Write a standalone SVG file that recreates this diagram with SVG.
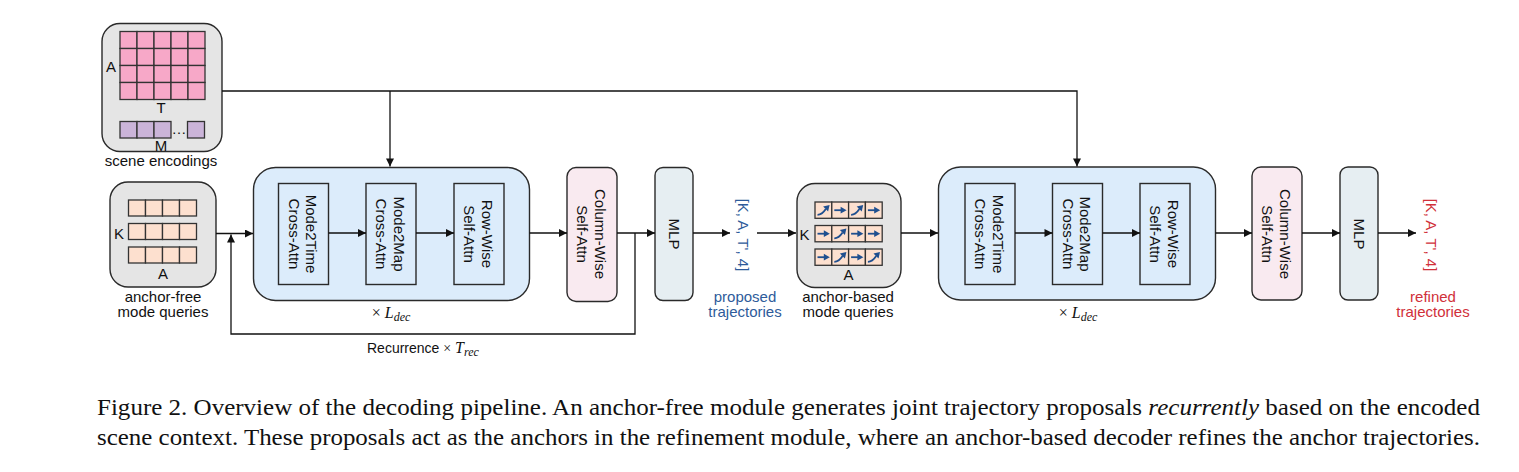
<svg xmlns="http://www.w3.org/2000/svg" xmlns:xlink="http://www.w3.org/1999/xlink" width="1519" height="472" viewBox="0 0 1519 472">
<style>
.sans{font-family:"Liberation Sans",Arial,sans-serif;fill:#111}
.serif{font-family:"Liberation Serif","Times New Roman",serif;fill:#111}
.lbl{font-size:15px}
.lt{font-size:15px}
.grey{fill:#e5e5e5;stroke:#2a2a2a;stroke-width:1.4}
.blk{fill:#dcecfb;stroke:#2a2a2a;stroke-width:1.4}
.inner{fill:#dcecfb;stroke:#2a2a2a;stroke-width:1.4}
.col{fill:#f9eaf0;stroke:#2a2a2a;stroke-width:1.4}
.mlp{fill:#e6eef2;stroke:#2a2a2a;stroke-width:1.4}
.pk{fill:#f7a8c8;stroke:#333;stroke-width:1.3}
.pu{fill:#cbb4d9;stroke:#333;stroke-width:1.3}
.pe{fill:#fde0cf;stroke:#333;stroke-width:1.3}
.cn{fill:none;stroke:#111;stroke-width:1.3}
.blue{fill:#2e5b9a}
.red{fill:#d0303a}
</style>
<defs>
<marker id="ah" viewBox="0 0 10 10" refX="10" refY="5" markerWidth="9" markerHeight="8" markerUnits="userSpaceOnUse" orient="auto">
<path d="M0,0 L10,5 L0,10 z" fill="#111"/>
</marker>
<g id="ar">
<path d="M2.5,8.2 H10" stroke="#1f4f8f" stroke-width="1.8" fill="none"/>
<polygon points="8.8,4.8 14.8,8.2 8.8,11.6" fill="#1f4f8f"/>
</g>
<g id="ad">
<path d="M2.5,12.8 C6,12.8 8.5,10.5 10.8,7" stroke="#1f4f8f" stroke-width="1.8" fill="none"/>
<polygon points="14.6,3 13.1,9.6 8.1,4.6" fill="#1f4f8f"/>
</g>
</defs>

<g id="scene-encodings">
<rect class="grey" x="102" y="23.5" width="120" height="128" rx="18"/>
<rect class="pk" x="120" y="31.5" width="17" height="17"/><rect class="pk" x="137" y="31.5" width="17" height="17"/><rect class="pk" x="154" y="31.5" width="17" height="17"/><rect class="pk" x="171" y="31.5" width="17" height="17"/><rect class="pk" x="188" y="31.5" width="17" height="17"/>
<rect class="pk" x="120" y="48.5" width="17" height="17"/><rect class="pk" x="137" y="48.5" width="17" height="17"/><rect class="pk" x="154" y="48.5" width="17" height="17"/><rect class="pk" x="171" y="48.5" width="17" height="17"/><rect class="pk" x="188" y="48.5" width="17" height="17"/>
<rect class="pk" x="120" y="65.5" width="17" height="17"/><rect class="pk" x="137" y="65.5" width="17" height="17"/><rect class="pk" x="154" y="65.5" width="17" height="17"/><rect class="pk" x="171" y="65.5" width="17" height="17"/><rect class="pk" x="188" y="65.5" width="17" height="17"/>
<rect class="pk" x="120" y="82.5" width="17" height="17"/><rect class="pk" x="137" y="82.5" width="17" height="17"/><rect class="pk" x="154" y="82.5" width="17" height="17"/><rect class="pk" x="171" y="82.5" width="17" height="17"/><rect class="pk" x="188" y="82.5" width="17" height="17"/>
<text class="sans lt" x="111" y="72" text-anchor="middle">A</text>
<text class="sans lt" x="161" y="113" text-anchor="middle">T</text>
<rect class="pu" x="120" y="121.5" width="17" height="16.5"/><rect class="pu" x="137" y="121.5" width="17" height="16.5"/><rect class="pu" x="154" y="121.5" width="17" height="16.5"/>
<text class="sans lt" x="179" y="133.5" text-anchor="middle">…</text>
<rect class="pu" x="187.5" y="121.5" width="17" height="16.5"/>
<text class="sans lt" x="161" y="150.5" text-anchor="middle">M</text>
<text class="sans lbl" x="161" y="166" text-anchor="middle">scene encodings</text>
</g>

<g id="anchor-free-queries">
<rect class="grey" x="110" y="182" width="106" height="105" rx="18"/>
<rect class="pe" x="128.5" y="200" width="17" height="16"/><rect class="pe" x="145.5" y="200" width="17" height="16"/><rect class="pe" x="162.5" y="200" width="17" height="16"/><rect class="pe" x="179.5" y="200" width="17" height="16"/>
<rect class="pe" x="128.5" y="223.5" width="17" height="16"/><rect class="pe" x="145.5" y="223.5" width="17" height="16"/><rect class="pe" x="162.5" y="223.5" width="17" height="16"/><rect class="pe" x="179.5" y="223.5" width="17" height="16"/>
<rect class="pe" x="128.5" y="247" width="17" height="16"/><rect class="pe" x="145.5" y="247" width="17" height="16"/><rect class="pe" x="162.5" y="247" width="17" height="16"/><rect class="pe" x="179.5" y="247" width="17" height="16"/>
<text class="sans lt" x="119" y="239" text-anchor="middle">K</text>
<text class="sans lt" x="163" y="279" text-anchor="middle">A</text>
<text class="sans lbl" x="163" y="302" text-anchor="middle">anchor-free</text>
<text class="sans lbl" x="163" y="317" text-anchor="middle">mode queries</text>
</g>

<g id="af-decoder">
<rect class="blk" x="253.5" y="167.5" width="276" height="133" rx="22"/>
<text class="serif" x="391" y="318" text-anchor="middle" font-size="16">× <tspan font-style="italic">L</tspan><tspan font-style="italic" font-size="12" dy="2.5">dec</tspan></text>
</g>
<g id="af-mode2time">
<rect class="inner" x="278.5" y="183.5" width="50" height="101"/>
<g transform="translate(303.5,234) rotate(90)"><text class="sans lbl" text-anchor="middle" y="-2.5">Mode2Time</text><text class="sans lbl" text-anchor="middle" y="15">Cross-Attn</text></g>
</g>
<g id="af-mode2map">
<rect class="inner" x="366" y="183.5" width="50" height="101"/>
<g transform="translate(391,234) rotate(90)"><text class="sans lbl" text-anchor="middle" y="-2.5">Mode2Map</text><text class="sans lbl" text-anchor="middle" y="15">Cross-Attn</text></g>
</g>
<g id="af-rowwise">
<rect class="inner" x="454" y="183.5" width="50" height="101"/>
<g transform="translate(479,234) rotate(90)"><text class="sans lbl" text-anchor="middle" y="-2.5">Row-Wise</text><text class="sans lbl" text-anchor="middle" y="15">Self-Attn</text></g>
</g>
<g id="af-colwise">
<rect class="col" x="567" y="167.5" width="50" height="134" rx="9"/>
<g transform="translate(592,234) rotate(90)"><text class="sans lbl" text-anchor="middle" y="-2.5">Column-Wise</text><text class="sans lbl" text-anchor="middle" y="15">Self-Attn</text></g>
</g>
<g id="af-mlp">
<rect class="mlp" x="655" y="167.5" width="38" height="133" rx="8"/>
<g transform="translate(674,234) rotate(90)"><text class="sans lbl" text-anchor="middle" y="5.4">MLP</text></g>
</g>
<g id="proposed">
<g transform="translate(743.5,235) rotate(90)"><text class="sans lbl blue" text-anchor="middle" y="5.4">[K, A, T', 4]</text></g>
<text class="sans lbl blue" x="745" y="302" text-anchor="middle">proposed</text>
<text class="sans lbl blue" x="745" y="317" text-anchor="middle">trajectories</text>
</g>

<g id="anchor-based-queries">
<rect class="grey" x="797" y="183.5" width="104" height="104" rx="18"/>
<rect class="pe" x="815" y="202" width="16.8" height="16.3"/><rect class="pe" x="831.8" y="202" width="16.8" height="16.3"/><rect class="pe" x="848.6" y="202" width="16.8" height="16.3"/><rect class="pe" x="865.4" y="202" width="16.8" height="16.3"/>
<rect class="pe" x="815" y="225.5" width="16.8" height="16.3"/><rect class="pe" x="831.8" y="225.5" width="16.8" height="16.3"/><rect class="pe" x="848.6" y="225.5" width="16.8" height="16.3"/><rect class="pe" x="865.4" y="225.5" width="16.8" height="16.3"/>
<rect class="pe" x="815" y="249" width="16.8" height="16.3"/><rect class="pe" x="831.8" y="249" width="16.8" height="16.3"/><rect class="pe" x="848.6" y="249" width="16.8" height="16.3"/><rect class="pe" x="865.4" y="249" width="16.8" height="16.3"/>
<use href="#ad" x="815" y="202"/><use href="#ar" x="831.8" y="202"/><use href="#ad" x="848.6" y="202"/><use href="#ar" x="865.4" y="202"/>
<use href="#ar" x="815" y="225.5"/><use href="#ad" x="831.8" y="225.5"/><use href="#ar" x="848.6" y="225.5"/><use href="#ar" x="865.4" y="225.5"/>
<use href="#ar" x="815" y="249"/><use href="#ad" x="831.8" y="249"/><use href="#ar" x="848.6" y="249"/><use href="#ad" x="865.4" y="249"/>
<text class="sans lt" x="804.5" y="240" text-anchor="middle">K</text>
<text class="sans lt" x="848.5" y="280" text-anchor="middle">A</text>
<text class="sans lbl" x="848" y="302" text-anchor="middle">anchor-based</text>
<text class="sans lbl" x="848" y="317" text-anchor="middle">mode queries</text>
</g>

<g id="ab-decoder">
<rect class="blk" x="938.5" y="167" width="277" height="133" rx="22"/>
<text class="serif" x="1078" y="318" text-anchor="middle" font-size="16">× <tspan font-style="italic">L</tspan><tspan font-style="italic" font-size="12" dy="2.5">dec</tspan></text>
</g>
<g id="ab-mode2time">
<rect class="inner" x="965" y="183.5" width="50" height="101"/>
<g transform="translate(990,234) rotate(90)"><text class="sans lbl" text-anchor="middle" y="-2.5">Mode2Time</text><text class="sans lbl" text-anchor="middle" y="15">Cross-Attn</text></g>
</g>
<g id="ab-mode2map">
<rect class="inner" x="1052.5" y="183.5" width="50" height="101"/>
<g transform="translate(1077.5,234) rotate(90)"><text class="sans lbl" text-anchor="middle" y="-2.5">Mode2Map</text><text class="sans lbl" text-anchor="middle" y="15">Cross-Attn</text></g>
</g>
<g id="ab-rowwise">
<rect class="inner" x="1140" y="183.5" width="50" height="101"/>
<g transform="translate(1165,234) rotate(90)"><text class="sans lbl" text-anchor="middle" y="-2.5">Row-Wise</text><text class="sans lbl" text-anchor="middle" y="15">Self-Attn</text></g>
</g>
<g id="ab-colwise">
<rect class="col" x="1252" y="167" width="50" height="133" rx="9"/>
<g transform="translate(1277,234) rotate(90)"><text class="sans lbl" text-anchor="middle" y="-2.5">Column-Wise</text><text class="sans lbl" text-anchor="middle" y="15">Self-Attn</text></g>
</g>
<g id="ab-mlp">
<rect class="mlp" x="1340" y="167" width="38" height="133" rx="8"/>
<g transform="translate(1359,234) rotate(90)"><text class="sans lbl" text-anchor="middle" y="5.4">MLP</text></g>
</g>
<g id="refined">
<g transform="translate(1431,235) rotate(90)"><text class="sans lbl red" text-anchor="middle" y="5.4">[K, A, T', 4]</text></g>
<text class="sans lbl red" x="1433" y="302" text-anchor="middle">refined</text>
<text class="sans lbl red" x="1433" y="317" text-anchor="middle">trajectories</text>
</g>

<g id="connectors">
<path class="cn" d="M222,91 H1077 V166.5" marker-end="url(#ah)"/>
<path class="cn" d="M390,91 V166.5" marker-end="url(#ah)"/>
<path class="cn" d="M216,233.5 H253" marker-end="url(#ah)"/>
<path class="cn" d="M635,233 V334 H231 V234.5" marker-end="url(#ah)"/>
<path class="cn" d="M328.5,233 H366" marker-end="url(#ah)"/>
<path class="cn" d="M416,233 H454" marker-end="url(#ah)"/>
<path class="cn" d="M529.5,233 H567" marker-end="url(#ah)"/>
<path class="cn" d="M617,233 H655" marker-end="url(#ah)"/>
<path class="cn" d="M693,233 H730" marker-end="url(#ah)"/>
<path class="cn" d="M757,233 H796" marker-end="url(#ah)"/>
<path class="cn" d="M901,233 H938" marker-end="url(#ah)"/>
<path class="cn" d="M1015,233 H1052.5" marker-end="url(#ah)"/>
<path class="cn" d="M1102.5,233 H1140" marker-end="url(#ah)"/>
<path class="cn" d="M1215.5,233 H1252" marker-end="url(#ah)"/>
<path class="cn" d="M1302,233 H1340" marker-end="url(#ah)"/>
<path class="cn" d="M1378,233 H1416" marker-end="url(#ah)"/>
</g>
<text class="sans" x="367" y="353" font-size="14">Recurrence <tspan font-family="Liberation Serif">×</tspan> <tspan font-family="Liberation Serif" font-style="italic" font-size="16">T</tspan><tspan font-family="Liberation Serif" font-style="italic" font-size="12" dy="2.5">rec</tspan></text>

<g id="caption">
<text class="serif" x="97" y="415" font-size="23" textLength="1383" lengthAdjust="spacingAndGlyphs">Figure 2. Overview of the decoding pipeline. An anchor-free module generates joint trajectory proposals <tspan font-style="italic">recurrently</tspan> based on the encoded</text>
<text class="serif" x="97" y="444.5" font-size="23" textLength="1383" lengthAdjust="spacingAndGlyphs">scene context. These proposals act as the anchors in the refinement module, where an anchor-based decoder refines the anchor trajectories.</text>
</g>
</svg>
